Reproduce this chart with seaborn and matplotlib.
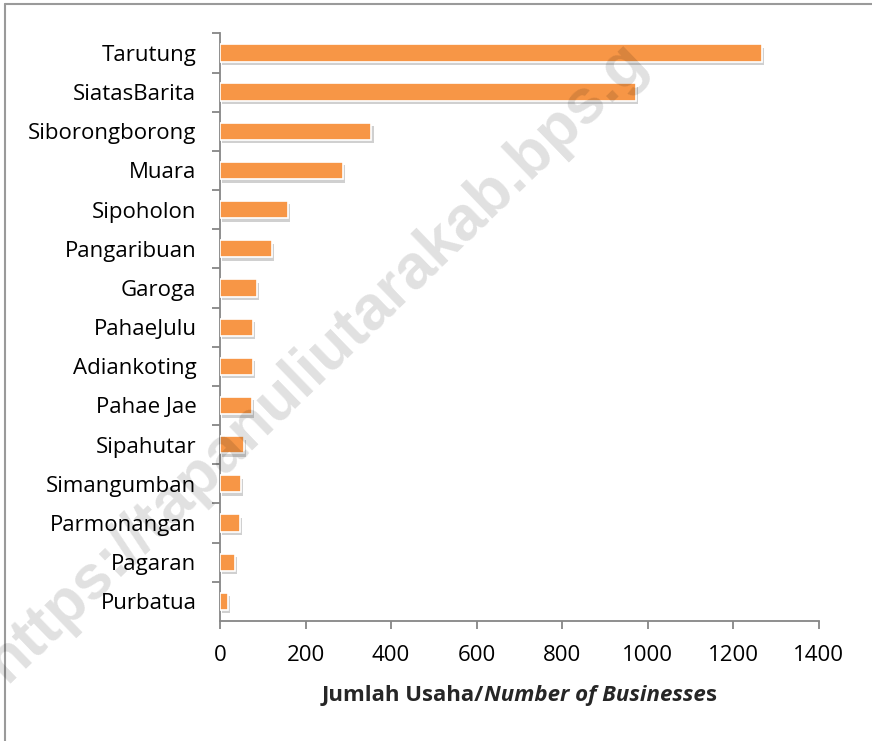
import matplotlib
matplotlib.use("Agg")
import matplotlib.pyplot as plt
import matplotlib.patheffects as pe
from matplotlib.lines import Line2D
import numpy as np
import pandas as pd
import seaborn as sns

# data
districts = ["Tarutung", "SiatasBarita", "Siborongborong", "Muara", "Sipoholon",
             "Pangaribuan", "Garoga", "PahaeJulu", "Adiankoting", "Pahae Jae",
             "Sipahutar", "Simangumban", "Parmonangan", "Pagaran", "Purbatua"]
businesses = [1268, 972, 354, 287, 159, 122, 87, 77, 77, 74, 56, 48, 46, 34, 19]
x_ticks = [0, 200, 400, 600, 800, 1000, 1200, 1400]

BAR = "#F79646"
AXIS = "#868686"

sns.set_theme(style="white")
plt.rcParams["font.family"] = ["Open Sans", "DejaVu Sans"]

df = pd.DataFrame({"district": districts, "n": businesses})

fig = plt.figure(figsize=(8.72, 7.41), dpi=100)
ax = fig.add_axes([0.2523, 0.162, 0.9390 - 0.2523, 0.955 - 0.162])

sns.barplot(data=df, y="district", x="n", color=BAR, saturation=1,
            width=0.44, edgecolor="white", linewidth=1.2, ax=ax, zorder=3)
for p in ax.patches:
    p.set_path_effects([pe.SimplePatchShadow(offset=(1.5, -2.5), shadow_rgbFace="#8a8a8a", alpha=0.4),
                        pe.Normal()])

ax.set_xlim(0, 1400)
ax.set_ylim(len(districts) - 0.5, -0.5)
ax.set_xticks(x_ticks)
ax.set_xticklabels([str(t) for t in x_ticks])
ax.set_yticks(np.arange(len(districts)) - 0.5, minor=True)
ax.tick_params(axis="y", which="major", length=0, pad=17, labelsize=16, labelcolor="black")
ax.tick_params(axis="y", which="minor", left=True, length=6, width=1.3, color=AXIS)
ax.tick_params(axis="x", which="major", bottom=True, length=6, width=1.3, color=AXIS,
               pad=11, labelsize=16, labelcolor="black")
ax.set_xlabel("")
ax.set_ylabel("")
for s in ["top", "right"]:
    ax.spines[s].set_visible(False)
for s in ["left", "bottom"]:
    ax.spines[s].set_color(AXIS)
    ax.spines[s].set_linewidth(1.3)

# axis title with mixed bold / bold-italic pieces
pieces = [("Jumlah Usaha/", "normal"), ("Number of Businesse", "italic"), ("s", "normal")]
txts = [fig.text(0, 0.061, s, fontsize=16, fontweight="bold", style=st, va="center")
        for s, st in pieces]
r = fig.canvas.get_renderer()
widths = [t.get_window_extent(r).width for t in txts]
x = 519.5 - sum(widths) / 2
for t, w in zip(txts, widths):
    t.set_x(x / 872)
    x += w

# watermark (only the visible part of the url)
fig.text(316 / 872, 1 - 362 / 741, "https://tapanuliutarakab.bps.g", fontsize=45,
         fontweight="bold", family=["Liberation Sans", "DejaVu Sans"], color="black", alpha=0.12,
         rotation=44, rotation_mode="anchor", ha="center", va="center", zorder=10)

# frame lines (top and left)
fig.add_artist(Line2D([5 / 872, 5 / 872], [0, 1 - 4 / 741], color="#9a9a9a", lw=1.5))
fig.add_artist(Line2D([5 / 872, 1], [1 - 4 / 741, 1 - 4 / 741], color="#9a9a9a", lw=1.5))

fig.savefig("out.png", dpi=100)
